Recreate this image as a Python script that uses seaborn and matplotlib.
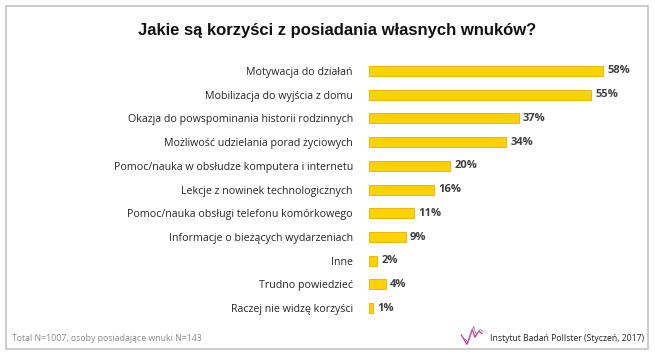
import pandas as pd
import matplotlib.pyplot as plt
import seaborn as sns
from matplotlib.patches import Rectangle
from matplotlib.lines import Line2D

# --- Dane ---
kategorie = [
    'Motywacja do działań',
    'Mobilizacja do wyjścia z domu',
    'Okazja do powspominania historii rodzinnych',
    'Możliwość udzielania porad życiowych',
    'Pomoc/nauka w obsłudze komputera i internetu',
    'Lekcje z nowinek technologicznych',
    'Pomoc/nauka obsługi telefonu komórkowego',
    'Informacje o bieżących wydarzeniach',
    'Inne',
    'Trudno powiedzieć',
    'Raczej nie widzę korzyści',
]
wartosci = [58, 55, 37, 34, 20, 16, 11, 9, 2, 4, 1]

tytul = 'Jakie są korzyści z posiadania własnych wnuków?'
stopka_lewa = 'Total N=1007, osoby posiadające wnuki N=143'
stopka_prawa = 'Instytut Badań Pollster (Styczeń, 2017)'

df = pd.DataFrame({'kategoria': kategorie, 'wartosc': wartosci})

sns.set_style('white')
plt.rcParams['font.family'] = ['Open Sans', 'DejaVu Sans']

fig = plt.figure(figsize=(6.55, 3.58), dpi=100)
ax = fig.add_axes([0.564, 0.106, 0.40, 0.729])

sns.barplot(data=df, x='wartosc', y='kategoria', orient='h', color='#FFD200',
            edgecolor='#E8AE00', linewidth=0.6, width=0.42, saturation=1, ax=ax)

ax.set_xlim(0, 65)
ax.set_ylim(len(kategorie) - 0.5, -0.5)
ax.set_xlabel('')
ax.set_ylabel('')
ax.set_xticks([])
ax.tick_params(axis='y', length=0, pad=12, labelsize=7.7, labelcolor='#262626')
sns.despine(ax=ax, left=True, bottom=True)

for i, v in enumerate(wartosci):
    ax.text(v + 1.0, i, f'{v}%', va='center', ha='left', fontsize=8,
            fontweight='bold', color='#404040')

# Tytuł
fig.text(0.515, 0.915, tytul, ha='center', va='center', fontsize=12,
         fontweight='bold', family=['Liberation Sans', 'DejaVu Sans'], color='#111111')

# Stopka
fig.text(0.018, 0.055, stopka_lewa, ha='left', va='center', fontsize=6.3, color='#8a8a8a')
fig.text(0.983, 0.055, stopka_prawa, ha='right', va='center', fontsize=6.2, color='#222222')

# Logo (zygzak)
fig.add_artist(Line2D([0.704, 0.713, 0.721, 0.725, 0.731, 0.736],
                      [0.065, 0.038, 0.080, 0.058, 0.075, 0.068],
                      transform=fig.transFigure, color='#d8307a', lw=0.9))
fig.add_artist(Line2D([0.706, 0.715, 0.723, 0.727, 0.733, 0.737],
                      [0.058, 0.045, 0.088, 0.066, 0.080, 0.074],
                      transform=fig.transFigure, color='#a070c0', lw=0.6))

# Ramka
fig.add_artist(Rectangle((6 / 655, 1 - 349 / 358), 642 / 655, 343 / 358,
                         transform=fig.transFigure, fill=False, edgecolor='#c8c8c8', lw=1.3))

fig.savefig('out.png', dpi=100)
